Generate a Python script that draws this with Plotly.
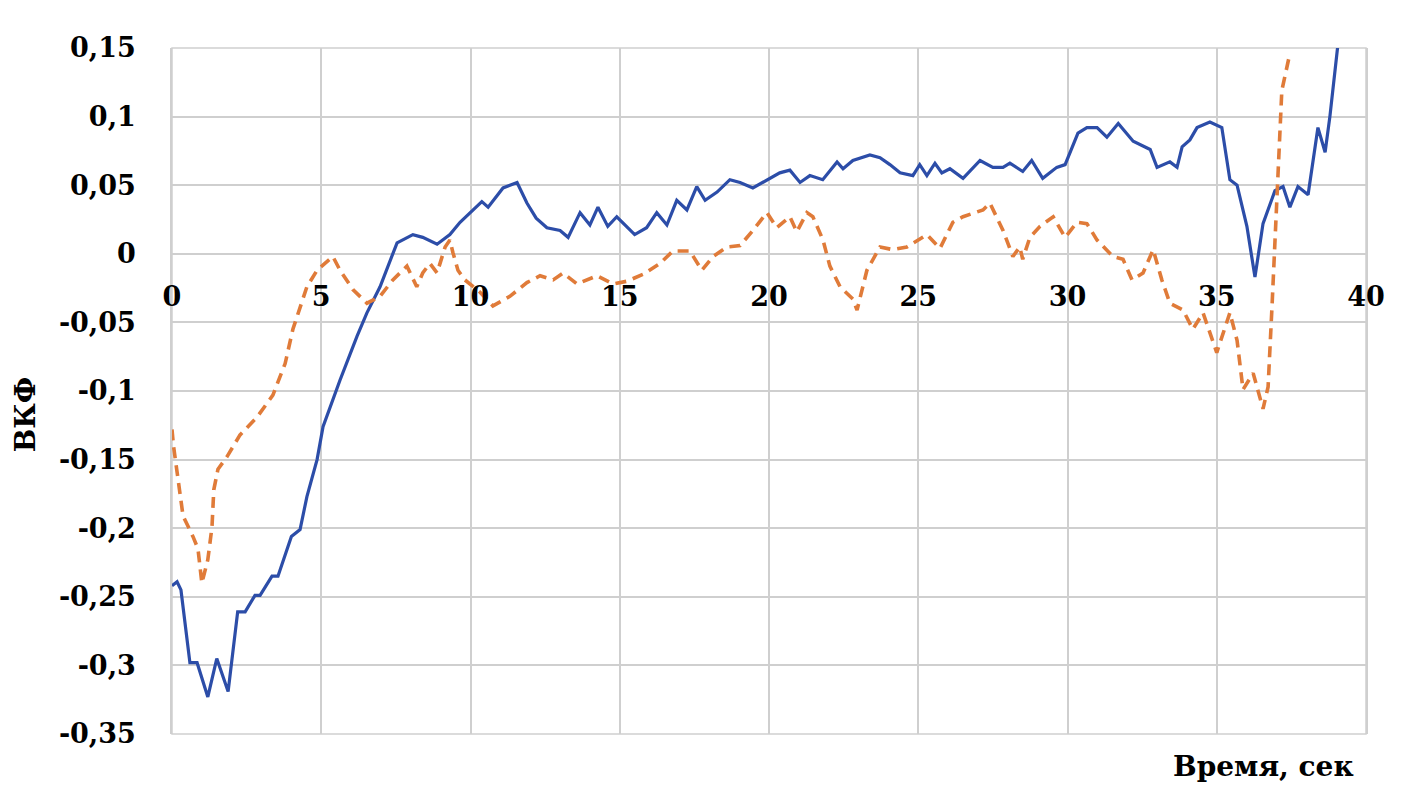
import plotly.graph_objects as go

# Blue series (solid)
t_blue = [0, 0.17, 0.3, 0.6, 0.84, 1.2, 1.5, 1.88, 2.2, 2.45, 2.78, 2.95, 3.35, 3.55, 4.0, 4.29, 4.52, 4.86,
          5.06, 5.63, 6.2, 6.53, 6.97, 7.54, 8.07, 8.4, 8.88, 9.31, 9.65, 10.08, 10.38, 10.59, 11.09, 11.56,
          11.89, 12.2, 12.56, 13.0, 13.27, 13.67, 14.0, 14.27, 14.6, 14.9, 15.5, 15.9, 16.24, 16.58, 16.91,
          17.25, 17.58, 17.86, 18.26, 18.69, 19.03, 19.46, 19.93, 20.36, 20.7, 21.04, 21.37, 21.5, 21.8,
          22.28, 22.48, 22.81, 23.38, 23.72, 24.05, 24.39, 24.82, 25.05, 25.29, 25.56, 25.79, 26.06, 26.5,
          27.07, 27.5, 27.84, 28.07, 28.5, 28.8, 29.17, 29.64, 29.92, 30.35, 30.65, 30.99, 31.32, 31.7,
          32.2, 32.5, 32.77, 33.0, 33.43, 33.67, 33.84, 34.1, 34.34, 34.77, 35.17, 35.44, 35.68, 36.01,
          36.28, 36.55, 36.95, 37.22, 37.45, 37.72, 38.06, 38.39, 38.63, 38.79, 39.03, 39.2]
v_blue = [-0.242, -0.239, -0.245, -0.298, -0.298, -0.323, -0.295, -0.319, -0.261, -0.261, -0.249, -0.249,
          -0.235, -0.235, -0.206, -0.201, -0.177, -0.150, -0.126, -0.092, -0.060, -0.043, -0.024, 0.008,
          0.014, 0.012, 0.007, 0.014, 0.023, 0.032, 0.038, 0.034, 0.048, 0.052, 0.037, 0.026, 0.019, 0.017,
          0.012, 0.030, 0.021, 0.034, 0.020, 0.027, 0.014, 0.019, 0.030, 0.021, 0.039, 0.032, 0.049, 0.039,
          0.045, 0.054, 0.052, 0.048, 0.054, 0.059, 0.061, 0.052, 0.057, 0.056, 0.054, 0.067, 0.062, 0.068,
          0.072, 0.070, 0.065, 0.059, 0.057, 0.065, 0.057, 0.066, 0.059, 0.062, 0.055, 0.068, 0.063, 0.063,
          0.066, 0.060, 0.068, 0.055, 0.063, 0.065, 0.088, 0.092, 0.092, 0.085, 0.095, 0.082, 0.079, 0.076,
          0.063, 0.067, 0.063, 0.078, 0.083, 0.092, 0.096, 0.092, 0.054, 0.050, 0.020, -0.017, 0.022, 0.046,
          0.049, 0.034, 0.049, 0.043, 0.092, 0.074, 0.100, 0.151, 0.180]

# Orange series (dashed)
t_orange = [0, 0.05, 0.17, 0.37, 0.7, 0.87, 1.0, 1.1, 1.2, 1.34, 1.4, 1.54, 1.84, 2.28, 2.85, 3.38, 3.79,
            4.05, 4.52, 4.86, 5.39, 5.63, 6.06, 6.53, 6.97, 7.4, 7.87, 8.2, 8.4, 8.64, 8.88, 9.15, 9.31, 9.41,
            9.58, 9.81, 10.32, 10.75, 11.32, 11.89, 12.33, 12.77, 13.1, 13.57, 14.24, 14.78, 15.24, 15.78,
            16.35, 16.78, 17.35, 17.75, 18.13, 18.59, 19.03, 19.46, 19.93, 20.26, 20.7, 20.93, 21.27, 21.47,
            21.81, 22.04, 22.38, 22.81, 22.95, 23.28, 23.72, 24.15, 24.62, 25.29, 25.73, 26.16, 26.5, 27.17,
            27.4, 27.84, 28.17, 28.4, 28.5, 28.74, 29.08, 29.52, 29.92, 30.32, 30.65, 30.99, 31.52, 31.86,
            32.16, 32.53, 32.87, 33.16, 33.43, 33.87, 34.2, 34.54, 35.0, 35.44, 35.68, 35.88, 36.22, 36.55,
            36.72, 36.85, 37.02, 37.18, 37.45]
v_orange = [-0.128, -0.140, -0.159, -0.191, -0.206, -0.215, -0.240, -0.230, -0.223, -0.199, -0.172, -0.157,
            -0.148, -0.132, -0.119, -0.103, -0.080, -0.055, -0.024, -0.012, -0.002, -0.012, -0.026, -0.036,
            -0.031, -0.019, -0.009, -0.024, -0.014, -0.007, -0.014, 0.005, 0.010, 0.001, -0.012, -0.019,
            -0.028, -0.038, -0.031, -0.021, -0.016, -0.019, -0.014, -0.022, -0.016, -0.022, -0.020, -0.015,
            -0.007, 0.002, 0.002, -0.012, -0.002, 0.005, 0.006, 0.017, 0.030, 0.019, 0.027, 0.016, 0.030,
            0.027, 0.010, -0.009, -0.024, -0.033, -0.041, -0.012, 0.005, 0.003, 0.005, 0.014, 0.004, 0.023,
            0.027, 0.032, 0.037, 0.017, -0.002, 0.005, -0.004, 0.012, 0.020, 0.027, 0.012, 0.023, 0.022,
            0.010, -0.002, -0.004, -0.019, -0.014, 0.003, -0.019, -0.036, -0.041, -0.055, -0.043, -0.072,
            -0.043, -0.063, -0.099, -0.087, -0.113, -0.097, -0.039, 0.049, 0.119, 0.146]

x_ticks = [0, 5, 10, 15, 20, 25, 30, 35, 40]
x_ticklabels = ["0", "5", "10", "15", "20", "25", "30", "35", "40"]
y_ticks = [0.15, 0.1, 0.05, 0, -0.05, -0.1, -0.15, -0.2, -0.25, -0.3, -0.35]
y_ticklabels = ["0,15", "0,1", "0,05", "0", "-0,05", "-0,1", "-0,15", "-0,2", "-0,25", "-0,3", "-0,35"]

font_family = "DejaVu Serif"
grid_color = "#CFCFCF"
tick_font = dict(family=font_family, size=27, color="black", weight="bold")

fig = go.Figure()
fig.add_trace(go.Scatter(x=t_blue, y=v_blue, mode="lines",
                         line=dict(color="#2C4DA8", width=3.2), showlegend=False))
fig.add_trace(go.Scatter(x=t_orange, y=v_orange, mode="lines",
                         line=dict(color="#E07B39", width=3.6, dash="11px,7px"), showlegend=False))

fig.update_layout(
    width=1417, height=804,
    margin=dict(l=164, r=59, t=40, b=78, autoexpand=False),
    plot_bgcolor="white", paper_bgcolor="white",
    font=dict(family=font_family, size=27, color="black", weight="bold"),
    xaxis=dict(range=[0, 40], tickvals=x_ticks, ticktext=x_ticklabels,
               showgrid=True, gridcolor=grid_color, gridwidth=1.5,
               zeroline=False, showline=False, ticks="",
               anchor="free", position=0.7, ticklabelstandoff=24,
               tickfont=tick_font, automargin=False),
    yaxis=dict(range=[-0.35, 0.15], tickvals=y_ticks, ticktext=y_ticklabels,
               showgrid=True, gridcolor=grid_color, gridwidth=1.5,
               zeroline=False, showline=True, linecolor=grid_color, linewidth=1.5, mirror=True,
               ticks="", ticklabelstandoff=29,
               tickfont=tick_font, automargin=False),
)

fig.add_shape(type="rect", xref="paper", yref="paper", x0=0, y0=0, x1=1, y1=1,
              line=dict(color=grid_color, width=1.5), layer="below")

# y title "ВКФ" (centre at about x=25 px, y=-0.117)
fig.add_annotation(text="ВКФ", xref="paper", yref="y", x=(25 - 172) / 1194, y=-0.117,
                   textangle=-90, showarrow=False, xanchor="center", yanchor="middle",
                   font=dict(family=font_family, size=28, color="black", weight="bold"))
# x title "Время, сек"
fig.add_annotation(text="Время, сек", xref="x", yref="paper", x=(1263 - 172) / 29.85, y=(734 - 766) / 686,
                   showarrow=False, xanchor="center", yanchor="middle",
                   font=dict(family=font_family, size=28, color="black", weight="bold"))

fig.write_html("out.html")
